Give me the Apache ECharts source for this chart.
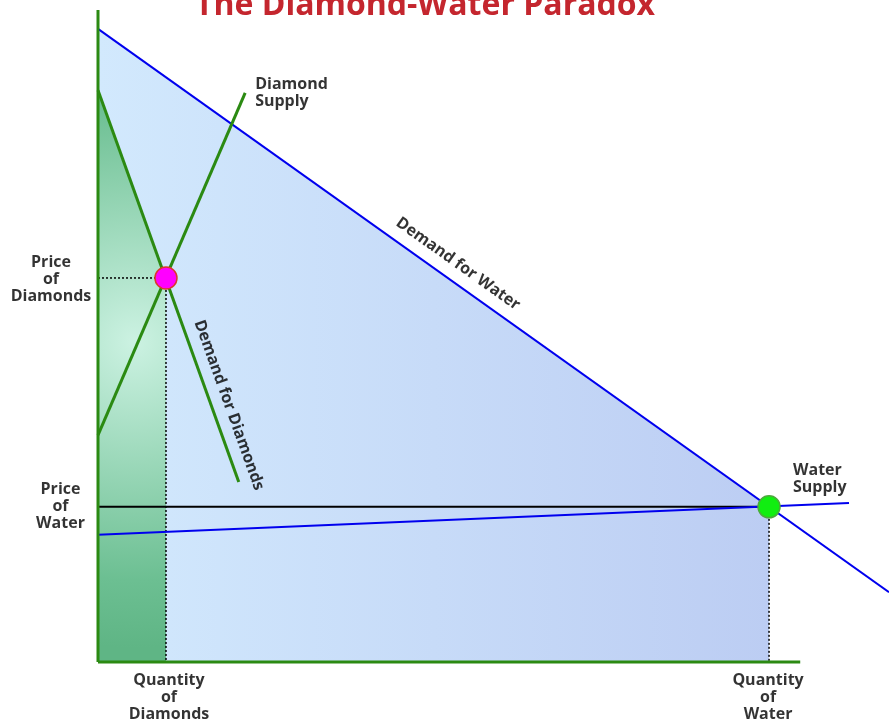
<!DOCTYPE html>
<html>
<head>
<meta charset="utf-8">
<title>The Diamond-Water Paradox</title>
<script src="https://cdn.jsdelivr.net/npm/echarts@6/dist/echarts.min.js"></script>
<style>
html, body { margin: 0; padding: 0; background: #fff; }
#chart { width: 889px; height: 723px; }
</style>
</head>
<body>
<div id="chart"></div>
<script>
// quantity runs 0..98.9 along x, price 0..100 along y
const qDiamonds = 8.5;
const pDiamonds = 58.9;
const qWater = 83.9;
const pWater = 23.8;
const qAxisEnd = 87.8;
const qMax = 98.9;
const pAxisEnd = 100;

const waterDemand = [[0, 97.1], [98.9, 10.7]];
const waterSupply = [[0, 19.5], [93.9, 24.4]];
const diamondDemand = [[0, 87.7], [17.6, 27.6]];
const diamondSupply = [[0, 34.8], [18.4, 87.3]];

const priceLabels = ['Price\nof\nDiamonds', 'Price\nof\nWater'];
const quantityLabels = ['Quantity\nof\nDiamonds', 'Quantity\nof\nWater'];
const curveLabels = ['Diamond\nSupply', 'Water\nSupply', 'Demand for Water', 'Demand for Diamonds'];
const titleText = 'The Diamond-Water Paradox';

const GREEN = '#2b8a12';
const BLUE = '#0000ee';
const FONT = 'Open Sans';

// y on a straight curve at a given x
function yAt(line, x) {
    const a = line[0], b = line[1];
    return a[1] + (b[1] - a[1]) * (x - a[0]) / (b[0] - a[0]);
}

function segment(data, color, width, type, z, clip) {
    return {
        type: 'line',
        data: data,
        symbol: 'none',
        silent: true,
        z: z || 3,
        clip: clip !== false,
        lineStyle: { color: color, width: width, type: type || 'solid' }
    };
}

const chart = echarts.init(document.getElementById('chart'));

const labelBase = {
    show: true,
    position: 'inside',
    color: '#000',
    textBorderWidth: 0,
    fontFamily: FONT,
    fontWeight: 'bold',
    fontSize: 16,
    lineHeight: 17,
    align: 'center',
    verticalAlign: 'middle'
};

const labelItems = [
    { value: [0, pDiamonds], label: { formatter: priceLabels[0], offset: [-47, 1] } },
    { value: [0, pWater], label: { formatter: priceLabels[1], offset: [-37.5, 0] } },
    { value: [qDiamonds, 0], label: { formatter: quantityLabels[0], offset: [3, 35] } },
    { value: [qWater, 0], label: { formatter: quantityLabels[1], offset: [-1, 35] } },
    { value: diamondSupply[1], label: { formatter: curveLabels[0], align: 'left', offset: [10, 0.5] } },
    { value: [qWater, pWater], label: { formatter: curveLabels[1], align: 'left', offset: [24, -27.5] } },
    { value: [43.75, yAt(waterDemand, 43.75)], label: { formatter: curveLabels[2], rotate: -35.4, offset: [0, -17.4] } },
    { value: [14.4, yAt(diamondDemand, 14.4)], label: { formatter: curveLabels[3], rotate: -70.2, offset: [0, -16.7] } }
];

const option = {
    animation: false,
    backgroundColor: '#fff',
    grid: { left: 98, top: 10, right: 0, height: 652 },
    xAxis: { type: 'value', min: 0, max: qMax, show: false },
    yAxis: { type: 'value', min: 0, max: pAxisEnd, show: false },
    graphic: [{
        type: 'text',
        x: 425,
        y: 6,
        z: 10,
        style: {
            text: titleText,
            fill: '#c4262e',
            font: 'bold 32px "Open Sans"',
            align: 'center',
            verticalAlign: 'middle'
        }
    }],
    series: [
        {
            type: 'line',
            data: [waterDemand[0], [qWater, pWater]],
            symbol: 'none',
            silent: true,
            z: 1,
            lineStyle: { width: 0 },
            areaStyle: {
                opacity: 1,
                color: new echarts.graphic.LinearGradient(0, 0, 1, 0, [
                    { offset: 0, color: '#d2e9fd' },
                    { offset: 1, color: '#bccdf3' }
                ])
            }
        },
        {
            type: 'line',
            data: [diamondDemand[0], [qDiamonds, pDiamonds]],
            symbol: 'none',
            silent: true,
            z: 2,
            lineStyle: { width: 0 },
            areaStyle: {
                opacity: 1,
                color: new echarts.graphic.RadialGradient(0.54, 0.44, 4.5, [
                    { offset: 0, color: '#ccf2e2' },
                    { offset: 0.78, color: '#6cbf92' },
                    { offset: 1, color: '#5fb585' }
                ])
            }
        },
        segment([[0, pDiamonds], [qDiamonds, pDiamonds]], '#000', 1.5, [2, 2]),
        segment([[qDiamonds, pDiamonds], [qDiamonds, 0]], '#000', 1.5, [2, 2]),
        segment([[qWater, pWater], [qWater, 0]], '#000', 1.5, [2, 2]),
        segment([[0, pWater], [qWater, pWater]], '#000', 2),
        segment(waterSupply, BLUE, 2),
        segment(waterDemand, BLUE, 2),
        segment(diamondDemand, GREEN, 3, 'solid', 4),
        segment(diamondSupply, GREEN, 3, 'solid', 4),
        segment([[0, 0], [qAxisEnd, 0]], GREEN, 3, 'solid', 5, false),
        segment([[0, 0], [0, pAxisEnd]], GREEN, 3, 'solid', 5, false),
        {
            type: 'scatter',
            silent: true,
            z: 6,
            symbolSize: 22,
            data: [
                { value: [qDiamonds, pDiamonds], itemStyle: { color: '#ff00ff', borderColor: '#d83a2a', borderWidth: 1.5, opacity: 1 } },
                { value: [qWater, pWater], itemStyle: { color: '#11ee11', borderColor: '#4caa3c', borderWidth: 1.5, opacity: 1 } }
            ]
        },
        {
            type: 'scatter',
            silent: true,
            z: 7,
            symbolSize: 1,
            itemStyle: { color: 'transparent' },
            label: labelBase,
            data: labelItems
        }
    ]
};

chart.setOption(option);
</script>
</body>
</html>
